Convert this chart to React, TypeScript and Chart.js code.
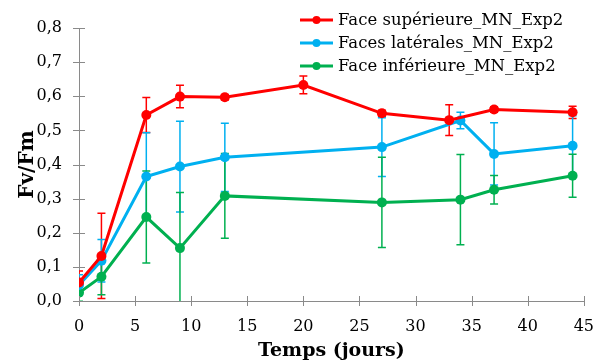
import React, { useEffect, useRef } from "react";
import { Chart, registerables } from "chart.js";

Chart.register(...registerables);

// ---- data ----
const seriesNames = [
  "Face supérieure_MN_Exp2",
  "Faces latérales_MN_Exp2",
  "Face inférieure_MN_Exp2",
];
const seriesColors = ["#FF0000", "#00B0F0", "#00B050"];

const daysSup = [0, 2, 6, 9, 13, 20, 27, 33, 37, 44];
const valuesSup = [0.054, 0.132, 0.545, 0.599, 0.597, 0.633, 0.55, 0.53, 0.561, 0.553];
const errorsSup = [0.034, 0.125, 0.051, 0.033, 0.008, 0.026, 0.009, 0.045, 0.008, 0.018];

const daysLat = [0, 2, 6, 9, 13, 27, 34, 37, 44];
const valuesLat = [0.047, 0.118, 0.365, 0.394, 0.421, 0.451, 0.529, 0.431, 0.455];
const errorsLat = [0.03, 0.062, 0.128, 0.133, 0.1, 0.086, 0.024, 0.091, 0.088];

const daysInf = [0, 2, 6, 9, 13, 27, 34, 37, 44];
const valuesInf = [0.024, 0.071, 0.246, 0.155, 0.308, 0.289, 0.297, 0.326, 0.367];
const errorsInf = [0.025, 0.053, 0.135, 0.163, 0.124, 0.132, 0.132, 0.042, 0.063];

const xTitle = "Temps (jours)";
const yTitle = "Fv/Fm";

const AXIS_GRAY = "#8a8a8a";
const FONT = "'DejaVu Serif', serif";

const errorBarPlugin = {
  id: "errorBars",
  beforeDatasetsDraw(chart: any) {
    const { ctx, chartArea, scales } = chart;
    const xs = scales.x;
    const ys = scales.y;
    ctx.save();
    ctx.beginPath();
    ctx.rect(chartArea.left, chartArea.top, chartArea.right - chartArea.left, chartArea.bottom - chartArea.top);
    ctx.clip();
    chart.data.datasets.forEach((ds: any) => {
      const errs: number[] = ds.errors || [];
      ctx.strokeStyle = ds.borderColor;
      ctx.lineWidth = 1.5;
      ds.data.forEach((p: any, i: number) => {
        const e = errs[i];
        if (!e) return;
        const px = xs.getPixelForValue(p.x);
        const yt = ys.getPixelForValue(p.y + e);
        const yb = ys.getPixelForValue(p.y - e);
        ctx.beginPath();
        ctx.moveTo(px, yt);
        ctx.lineTo(px, yb);
        ctx.moveTo(px - 4, yt);
        ctx.lineTo(px + 4, yt);
        ctx.moveTo(px - 4, yb);
        ctx.lineTo(px + 4, yb);
        ctx.stroke();
      });
    });
    ctx.restore();
  },
};

const tickMarkPlugin = {
  id: "crossTicks",
  afterDraw(chart: any) {
    const { ctx, scales } = chart;
    const xs = scales.x;
    const ys = scales.y;
    ctx.save();
    ctx.strokeStyle = AXIS_GRAY;
    ctx.lineWidth = 1;
    const y0 = ys.getPixelForValue(0);
    const x0 = xs.getPixelForValue(0);
    xs.ticks.forEach((t: any) => {
      const px = Math.round(xs.getPixelForValue(t.value)) + 0.5;
      ctx.beginPath();
      ctx.moveTo(px, y0 - 5);
      ctx.lineTo(px, y0 + 5);
      ctx.stroke();
    });
    ys.ticks.forEach((t: any) => {
      const py = Math.round(ys.getPixelForValue(t.value)) + 0.5;
      ctx.beginPath();
      ctx.moveTo(x0 - 6, py);
      ctx.lineTo(x0 + 6, py);
      ctx.stroke();
    });
    ctx.restore();
  },
};

const legendPlugin = {
  id: "customLegend",
  afterDraw(chart: any) {
    const { ctx } = chart;
    ctx.save();
    ctx.font = `16.5px ${FONT}`;
    ctx.textBaseline = "middle";
    ctx.textAlign = "left";
    chart.data.datasets.forEach((ds: any, i: number) => {
      const y = 20 + i * 23;
      ctx.strokeStyle = ds.borderColor;
      ctx.lineWidth = 3;
      ctx.beginPath();
      ctx.moveTo(300, y);
      ctx.lineTo(333, y);
      ctx.stroke();
      ctx.fillStyle = ds.borderColor;
      ctx.beginPath();
      ctx.arc(316.5, y, 4, 0, Math.PI * 2);
      ctx.fill();
      ctx.fillStyle = "#000";
      ctx.fillText(ds.label, 338, y + 1);
    });
    ctx.restore();
  },
};

export default function App() {
  const ref = useRef<HTMLCanvasElement | null>(null);

  useEffect(() => {
    document.body.style.margin = "0";
    const mk = (days: number[], vals: number[]) => days.map((d, i) => ({ x: d, y: vals[i] }));
    const all = [
      { d: daysSup, v: valuesSup, e: errorsSup },
      { d: daysLat, v: valuesLat, e: errorsLat },
      { d: daysInf, v: valuesInf, e: errorsInf },
    ];
    const chart = new Chart(ref.current as HTMLCanvasElement, {
      type: "line",
      data: {
        datasets: all.map((s, i) => ({
          label: seriesNames[i],
          data: mk(s.d, s.v),
          errors: s.e,
          borderColor: seriesColors[i],
          backgroundColor: seriesColors[i],
          borderWidth: 3,
          pointRadius: 5,
          pointHoverRadius: 5,
          pointBorderWidth: 0,
          pointBackgroundColor: seriesColors[i],
          tension: 0,
          fill: false,
        })) as any,
      },
      options: {
        animation: false,
        responsive: false,
        maintainAspectRatio: false,
        layout: { padding: { top: 28, right: 21, left: 0, bottom: 0 } },
        plugins: {
          legend: { display: false },
          tooltip: { enabled: false },
        },
        scales: {
          x: {
            type: "linear",
            min: 0,
            max: 45,
            grid: { display: false, drawTicks: false },
            border: { display: true, color: AXIS_GRAY, width: 1 },
            ticks: {
              stepSize: 5,
              padding: 16,
              color: "#000",
              font: { family: FONT, size: 16 },
            },
            title: {
              display: true,
              text: xTitle,
              color: "#000",
              font: { family: FONT, size: 19, weight: "bold" },
              padding: { top: 0, bottom: 2 },
            },
            afterFit(scale: any) {
              scale.height = 63;
            },
          },
          y: {
            type: "linear",
            min: 0,
            max: 0.8,
            grid: { display: false, drawTicks: false },
            border: { display: true, color: AXIS_GRAY, width: 1 },
            ticks: {
              stepSize: 0.1,
              padding: 17,
              color: "#000",
              font: { family: FONT, size: 16 },
              callback: (v: any) => Number(v).toFixed(1).replace(".", ","),
            },
            title: {
              display: true,
              text: yTitle,
              color: "#000",
              font: { family: FONT, size: 20, weight: "bold" },
              padding: { top: 16, bottom: 0 },
            },
            afterFit(scale: any) {
              scale.width = 79;
            },
          },
        },
      },
      plugins: [errorBarPlugin, tickMarkPlugin, legendPlugin],
    } as any);
    return () => chart.destroy();
  }, []);

  return (
    <div style={{ width: 610, height: 364 }}>
      <canvas ref={ref} width={610} height={364} style={{ display: "block" }} />
    </div>
  );
}
